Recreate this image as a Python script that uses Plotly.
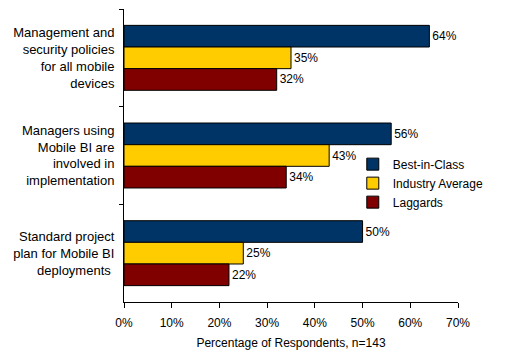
import plotly.graph_objects as go

categories = [
    "Management and<br>security policies<br>for all mobile<br>devices",
    "Managers using<br>Mobile BI are<br>involved in<br>implementation",
    "Standard project<br>plan for Mobile BI<br>deployments ",
]
series_names = ["Best-in-Class", "Industry Average", "Laggards"]
best_in_class = [64, 56, 50]
industry_average = [35, 43, 25]
laggards = [32, 34, 22]
colors = ["#003366", "#FFCC00", "#800000"]

fig = go.Figure()
for name, vals, col in zip(series_names, [best_in_class, industry_average, laggards], colors):
    fig.add_trace(go.Bar(
        y=categories, x=vals, name=name, orientation="h",
        marker=dict(color=col, line=dict(color="black", width=1)),
        text=[f"{v}%" for v in vals], textposition="outside",
        textfont=dict(size=12, color="black", family="Liberation Sans, Arial"),
        cliponaxis=False,
    ))

# page body has an 8px margin, so the figure is sized/offset to compensate
fig.update_layout(
    width=500, height=352,
    margin=dict(l=116, r=50, t=1, b=58),
    paper_bgcolor="white", plot_bgcolor="white",
    barmode="group", bargap=0.335, bargroupgap=0,
    font=dict(family="Liberation Sans, Arial", size=12, color="black"),
    showlegend=True,
    legend=dict(x=0.685, y=0.52, xanchor="left", yanchor="top",
                bgcolor="rgba(0,0,0,0)", font=dict(size=12),
                tracegroupgap=0),
    xaxis=dict(range=[0, 70], dtick=10, ticksuffix="%", showgrid=False,
               showline=True, linecolor="black", linewidth=1,
               ticks="outside", ticklen=5, tickcolor="black",
               zeroline=False, fixedrange=True, automargin=False,
               tickfont=dict(size=12), ticklabelstandoff=5,
               title=dict(text="Percentage of Respondents, n=143", standoff=9,
                          font=dict(size=12))),
    yaxis=dict(autorange="reversed", showgrid=False, showline=True,
               linecolor="black", linewidth=1, ticks="outside", ticklen=4,
               tickcolor="black", tickson="boundaries", ticklabelstandoff=6,
               automargin=False, tickfont=dict(size=13)),
)

fig.write_html("out.html")
